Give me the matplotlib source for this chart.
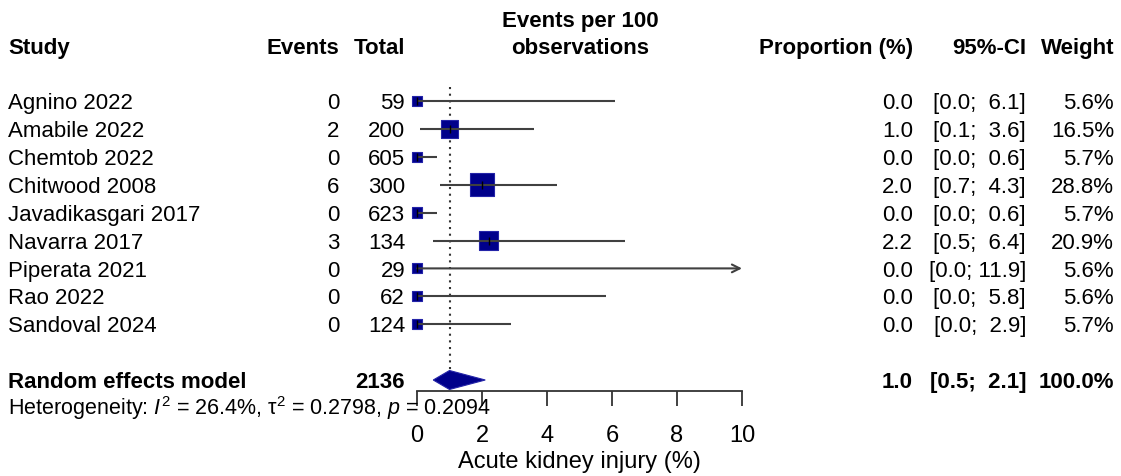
import numpy as np
import matplotlib
matplotlib.use('Agg')
import matplotlib.pyplot as plt
import matplotlib.transforms as mtransforms

# --------------------------------------------------------------------------- #
# Study level data (events per 100 observations)
studies = ['Agnino 2022', 'Amabile 2022', 'Chemtob 2022', 'Chitwood 2008',
           'Javadikasgari 2017', 'Navarra 2017', 'Piperata 2021', 'Rao 2022',
           'Sandoval 2024']
events = [0, 2, 0, 6, 0, 3, 0, 0, 0]
totals = [59, 200, 605, 300, 623, 134, 29, 62, 124]
props = [0.0, 1.0, 0.0, 2.0, 0.0, 2.2, 0.0, 0.0, 0.0]
lower = [0.0, 0.1, 0.0, 0.7, 0.0, 0.5, 0.0, 0.0, 0.0]
upper = [6.1, 3.6, 0.6, 4.3, 0.6, 6.4, 11.9, 5.8, 2.9]
weights = [5.6, 16.5, 5.7, 28.8, 5.7, 20.9, 5.6, 5.6, 5.7]

# Pooled (random effects) result
pooled_total = 2136
pooled_est = 1.0
pooled_lo = 0.5
pooled_hi = 2.1
pooled_weight = 100.0
i2, tau2, pval = 26.4, 0.2798, 0.2094

xticks = [0, 2, 4, 6, 8, 10]
xlabel = 'Acute kidney injury (%)'

# --------------------------------------------------------------------------- #
plt.rcParams['font.family'] = ['Liberation Sans', 'DejaVu Sans']
plt.rcParams['mathtext.fontset'] = 'custom'
plt.rcParams['mathtext.rm'] = 'Liberation Sans'
plt.rcParams['mathtext.it'] = 'Liberation Sans:italic'
plt.rcParams['mathtext.bf'] = 'Liberation Sans:bold'

W, H = 1121, 477
fs = 16
navy = '#00008b'
linecol = '#404040'

fig = plt.figure(figsize=(W / 100.0, H / 100.0), dpi=100)

# Row geometry (pixels): first study row, row spacing, axis line
row0, dy, axis_px = 102.0, 27.9, 392.0
x0_px, x1_px = 417.0, 742.0

ax = fig.add_axes([x0_px / W, (H - axis_px) / H, (x1_px - x0_px) / W, axis_px / H])
ax.set_xlim(0, 10)
ax.set_ylim((axis_px - row0) / dy, -row0 / dy)
ax.patch.set_alpha(0)
for s in ['top', 'left', 'right']:
  ax.spines[s].set_visible(False)
ax.spines['bottom'].set_color('#333333')
ax.spines['bottom'].set_linewidth(1.3)
ax.set_yticks([])
ax.set_xticks(xticks)
ax.tick_params(axis='x', direction='out', length=10.5, width=1.3,
               color='#333333', labelsize=17, pad=13)
ax.set_xlabel(xlabel, fontsize=17, labelpad=3)

rows = np.arange(len(studies))
pooled_row = len(studies) + 1

# Reference line at pooled estimate
ax.plot([pooled_est, pooled_est], [-0.5, pooled_row + 0.35], ls=(0, (1, 2.2)),
        color='#333333', lw=1.5, zorder=1, clip_on=False)

# Squares sized by weight
side_pt = 4.3 * np.sqrt(weights) * 0.72
ax.scatter(props, rows, s=side_pt ** 2, marker='s', color=navy,
           edgecolor='#2424a8', linewidth=0.8, zorder=2, clip_on=False)

# Confidence intervals
for r, lo, hi in zip(rows, lower, upper):
  if hi > 10:
    ax.annotate('', xy=(10, r), xytext=(lo, r),
                arrowprops=dict(arrowstyle='->', lw=1.5, color=linecol,
                                shrinkA=0, shrinkB=0, mutation_scale=14),
                zorder=3, annotation_clip=False)
  else:
    ax.plot([lo, hi], [r, r], color=linecol, lw=1.5, zorder=3,
            solid_capstyle='butt', clip_on=False)
ax.scatter(props, rows, s=40, marker='|', color='black', linewidth=1.0,
           zorder=4, clip_on=False)

# Diamond for pooled estimate
h = 0.34
ax.fill([pooled_lo, pooled_est, pooled_hi, pooled_est],
        [pooled_row, pooled_row - h, pooled_row, pooled_row + h],
        facecolor=navy, edgecolor='#2424a8', lw=0.8, zorder=3, clip_on=False)

# --------------------------------------------------------------------------- #
# Table text
tr = mtransforms.blended_transform_factory(fig.transFigure, ax.transData)
cx = {'study': 8, 'events': 339, 'total': 405, 'mid': 580,
      'prop': 913, 'ci': 1026, 'weight': 1114}


def put(xpx, y, s, ha='left', bold=False, size=fs):
  # small downward nudge so glyphs sit centred on the row like the original
  ax.text(xpx / W, y + 0.06, s, transform=tr, ha=ha, va='center', fontsize=size,
          fontweight='bold' if bold else 'normal', clip_on=False)


hdr = -1.97
put(cx['study'], hdr, 'Study', bold=True)
put(cx['events'], hdr, 'Events', ha='right', bold=True)
put(cx['total'], hdr, 'Total', ha='right', bold=True)
put(cx['mid'], -2.94, 'Events per 100', ha='center', bold=True)
put(cx['mid'], hdr, 'observations', ha='center', bold=True)
put(cx['prop'], hdr, 'Proportion (%)', ha='right', bold=True)
put(cx['ci'], hdr, '95%-CI', ha='right', bold=True)
put(cx['weight'], hdr, 'Weight', ha='right', bold=True)


def ci_text(lo, hi):
  return '[{0:.1f}; {1}]'.format(lo, '{0:.1f}'.format(hi).rjust(4))


for r, st, ev, tot, p, lo, hi, w in zip(rows, studies, events, totals, props,
                                         lower, upper, weights):
  put(cx['study'], r, st)
  put(cx['events'], r, str(ev), ha='right')
  put(cx['total'], r, str(tot), ha='right')
  put(cx['prop'], r, '{0:.1f}'.format(p), ha='right')
  put(cx['ci'], r, ci_text(lo, hi), ha='right')
  put(cx['weight'], r, '{0:.1f}%'.format(w), ha='right')

put(cx['study'], pooled_row, 'Random effects model', bold=True)
put(cx['total'], pooled_row, str(pooled_total), ha='right', bold=True)
put(cx['prop'], pooled_row, '{0:.1f}'.format(pooled_est), ha='right', bold=True)
put(cx['ci'], pooled_row, ci_text(pooled_lo, pooled_hi), ha='right', bold=True)
put(cx['weight'], pooled_row, '{0:.1f}%'.format(pooled_weight), ha='right', bold=True)

het = (r'Heterogeneity: $I^2$ = {0:.1f}%, $\mathrm{{\tau}}^2$ = {1:.4f}, '
       r'$p$ = {2:.4f}').format(i2, tau2, pval)
put(cx['study'], (406 - row0) / dy, het, size=15.5)

fig.savefig('out.png', dpi=100)
